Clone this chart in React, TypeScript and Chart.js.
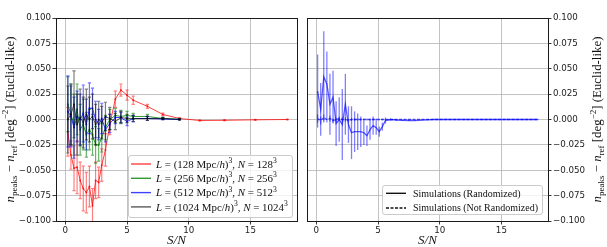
import React, { useEffect, useRef } from 'react';
import { Chart, registerables } from 'chart.js';

Chart.register(...registerables);

// ---------------- data ----------------
const xLeft = [0.2, 0.45, 0.7, 0.95, 1.2, 1.45, 1.7, 1.95, 2.2, 2.45, 2.7, 2.95, 3.25, 3.6, 4.05, 4.5, 5.0, 5.5, 6.65, 7.9, 9.25, 10.9, 12.9, 15.4, 18.0];

const red128 = [-0.012, -0.035, -0.048, -0.047, -0.06, -0.068, -0.072, -0.066, -0.085, -0.06, -0.062, -0.045, -0.03, -0.005, 0.02, 0.029, 0.024, 0.019, 0.013, 0.005, 0.001, -0.001, -0.0008, -0.0003, 0];
const red128Err = [0.024, 0.014, 0.022, 0.026, 0.018, 0.022, 0.02, 0.02, 0.017, 0.018, 0.015, 0.016, 0.016, 0.01, 0.008, 0.006, 0.005, 0.004, 0.002, 0.0012, 0.0008, 0.0005, 0.0004, 0.0003, 0.0002];

const green256 = [0.015, 0.005, -0.005, 0.01, -0.01, -0.005, -0.015, -0.01, -0.015, -0.025, -0.025, -0.018, -0.008, 0.0, 0.004, 0.003, 0.004, 0.003, 0.003, 0.001, 0.0003];
const green256Err = [0.027, 0.03, 0.03, 0.025, 0.025, 0.025, 0.022, 0.02, 0.02, 0.018, 0.016, 0.014, 0.012, 0.01, 0.007, 0.006, 0.004, 0.003, 0.002, 0.001, 0.0005];

const blue512 = [0.008, 0.003, -0.008, 0.003, 0.0, 0.006, -0.005, 0.011, 0.011, 0.0, -0.005, 0.001, -0.01, -0.004, 0.002, 0.002, -0.002, 0.001, 0.001, 0.0005, 0];
const blue512Err = [0.035, 0.03, 0.03, 0.025, 0.025, 0.028, 0.025, 0.025, 0.02, 0.018, 0.015, 0.015, 0.012, 0.009, 0.006, 0.005, 0.004, 0.003, 0.002, 0.001, 0.0005];

const black1024 = [0.0, 0.005, 0.015, -0.005, 0.002, -0.003, 0.005, 0.0, 0.003, -0.005, 0.0, -0.003, 0.003, 0.001, -0.002, 0.002, 0.001, 0.001, 0.001, 0.001, 0];
const black1024Err = [0.033, 0.03, 0.033, 0.03, 0.028, 0.025, 0.025, 0.022, 0.022, 0.02, 0.018, 0.016, 0.014, 0.011, 0.008, 0.006, 0.004, 0.003, 0.002, 0.001, 0.0005];

const xRight = [0.1, 0.35, 0.6, 0.85, 1.1, 1.35, 1.6, 1.85, 2.1, 2.35, 2.6, 2.85, 3.1, 3.35, 3.6, 3.85, 4.1, 4.35, 4.6, 4.85, 5.1, 5.35, 5.6, 6.0, 6.5, 7.0, 7.5, 8.0, 8.5, 9.0, 9.5, 10.0, 10.5, 11.0, 11.5, 12.0, 12.5, 13.0, 13.5, 14.0, 14.5, 15.0, 15.5, 16.0, 16.5, 17.0, 17.5, 18.0];

const simRandomized = [0.028, 0.01, 0.042, 0.035, 0.015, 0.022, -0.004, 0.0, -0.005, 0.015, -0.005, -0.013, -0.012, -0.012, -0.012, -0.013, -0.016, -0.01, -0.006, -0.008, -0.012, -0.007, -0.001, 0.0, -0.0005, -0.0008, -0.001, -0.0012, -0.0006, -0.0003, 0, 0, 0, 0, 0, 0, 0, 0, 0, 0, 0, 0, 0, 0, 0, 0, 0, 0];
const simRandomizedErr = [0.036, 0.026, 0.045, 0.032, 0.03, 0.026, 0.022, 0.022, 0.035, 0.03, 0.018, 0.026, 0.02, 0.018, 0.015, 0.012, 0.01, 0.01, 0.009, 0.007, 0.005, 0.004, 0.003, 0.001, 0.0008, 0.0006, 0.0005, 0.0004, 0.0003, 0.0002, 0.0002, 0, 0, 0, 0, 0, 0, 0, 0, 0, 0, 0, 0, 0, 0, 0, 0, 0];

const simNotRandomized = [0.001, -0.001, 0.002, 0.0, 0.001, -0.001, 0.0, 0.001, 0.0, 0.0, -0.001, 0.0, 0.0, 0.0, 0.0, 0.0, 0.0, 0.0, 0.0, 0.0, 0.0, 0.0, 0.0, 0, 0, 0, 0, 0, 0, 0, 0, 0, 0, 0, 0, 0, 0, 0, 0, 0, 0, 0, 0, 0, 0, 0, 0, 0];
const simNotRandomizedErr = [0.004, 0.004, 0.003, 0.003, 0.003, 0.002, 0.002, 0.002, 0.002, 0.002, 0.0015, 0.0015, 0.0015, 0.001, 0.001, 0.001, 0.001, 0.001, 0.001, 0.001, 0.0008, 0.0008, 0.0005, 0, 0, 0, 0, 0, 0, 0, 0, 0, 0, 0, 0, 0, 0, 0, 0, 0, 0, 0, 0, 0, 0, 0, 0, 0];

const xTicks = [0, 5, 10, 15];
const yTicks = [-0.1, -0.075, -0.05, -0.025, 0, 0.025, 0.05, 0.075, 0.1];

const leftLabels = ['128', '256', '512', '1024'];
const rightLabels = ['Simulations (Randomized)', 'Simulations (Not Randomized)'];

// ---------------- rich text helpers ----------------
type Seg = { t: string; it?: boolean; sub?: boolean; sup?: boolean };
const SERIF = '"Liberation Serif", "DejaVu Serif", serif';

function segSize(s: Seg, size: number) {
  return s.sub || s.sup ? size * 0.7 : size;
}
function setFont(ctx: CanvasRenderingContext2D, s: Seg, size: number) {
  ctx.font = `${s.it ? 'italic ' : ''}${segSize(s, size)}px ${SERIF}`;
}
function richWidth(ctx: CanvasRenderingContext2D, segs: Seg[], size: number) {
  let w = 0;
  for (const s of segs) {
    setFont(ctx, s, size);
    w += ctx.measureText(s.t).width;
  }
  return w;
}
function drawRich(ctx: CanvasRenderingContext2D, segs: Seg[], x: number, y: number, size: number) {
  let cx = x;
  ctx.textAlign = 'left';
  ctx.textBaseline = 'alphabetic';
  for (const s of segs) {
    setFont(ctx, s, size);
    const dy = s.sub ? size * 0.22 : s.sup ? -size * 0.42 : 0;
    ctx.fillText(s.t, cx, y + dy);
    cx += ctx.measureText(s.t).width;
  }
}
function fitSize(ctx: CanvasRenderingContext2D, segs: Seg[], target: number) {
  return (10 * target) / richWidth(ctx, segs, 10);
}

const yTitleSegs: Seg[] = [
  { t: 'n', it: true },
  { t: 'peaks', sub: true },
  { t: ' \u2212 ' },
  { t: 'n', it: true },
  { t: 'ref', sub: true },
  { t: ' [deg' },
  { t: '\u22122', sup: true },
  { t: '] (Euclid-like)' },
];
const xTitleSegs: Seg[] = [{ t: 'S/N', it: true }];

function boxSegs(n: string): Seg[] {
  return [
    { t: 'L', it: true },
    { t: ` = (${n} Mpc/` },
    { t: 'h', it: true },
    { t: ')' },
    { t: '3', sup: true },
    { t: ', ' },
    { t: 'N', it: true },
    { t: ` = ${n}` },
    { t: '3', sup: true },
  ];
}

interface LegendRow { color: string; dash?: number[]; segs: Seg[] }
interface LegendCfg {
  rows: LegendRow[];
  textW: number;
  rowH: number;
  firstOff: number;
  height: number;
  mr: number;
  mb: number;
  padL: number;
  lineLen: number;
  gap: number;
  padR: number;
}
interface AnnotCfg {
  yTitleX: number;
  yTitleLen: number;
  xTitleY: number;
  xTitleSize: number;
  legend: LegendCfg;
}

function makeAnnot(cfg: AnnotCfg) {
  return {
    id: 'annot',
    afterDraw(chart: any) {
      const ctx: CanvasRenderingContext2D = chart.ctx;
      const a = chart.chartArea;
      ctx.save();
      // frame
      ctx.strokeStyle = '#1a1a1a';
      ctx.lineWidth = 1;
      ctx.strokeRect(Math.round(a.left) + 0.5, Math.round(a.top) + 0.5, Math.round(a.right - a.left), Math.round(a.bottom - a.top));

      ctx.fillStyle = '#111';
      // y title
      const ys = fitSize(ctx, yTitleSegs, cfg.yTitleLen);
      const yw = richWidth(ctx, yTitleSegs, ys);
      const cy = (a.top + a.bottom) / 2;
      ctx.save();
      ctx.translate(cfg.yTitleX, cy);
      ctx.rotate(-Math.PI / 2);
      drawRich(ctx, yTitleSegs, -yw / 2, ys * 0.33, ys);
      ctx.restore();

      // x title
      const xw = richWidth(ctx, xTitleSegs, cfg.xTitleSize);
      drawRich(ctx, xTitleSegs, (a.left + a.right) / 2 - xw / 2, cfg.xTitleY, cfg.xTitleSize);

      // legend
      const L = cfg.legend;
      let longest = L.rows[0].segs;
      let lw = 0;
      for (const r of L.rows) {
        const w = richWidth(ctx, r.segs, 10);
        if (w > lw) { lw = w; longest = r.segs; }
      }
      const ls = fitSize(ctx, longest, L.textW);
      const w = L.padL + L.lineLen + L.gap + L.textW + L.padR;
      const right = a.right - L.mr;
      const bottom = a.bottom - L.mb;
      const left = right - w;
      const top = bottom - L.height;
      ctx.beginPath();
      (ctx as any).roundRect(left + 0.5, top + 0.5, w, L.height, 2.5);
      ctx.fillStyle = 'rgba(255,255,255,0.8)';
      ctx.fill();
      ctx.strokeStyle = '#cccccc';
      ctx.lineWidth = 1;
      ctx.stroke();
      L.rows.forEach((r, i) => {
        const ry = top + L.firstOff + i * L.rowH;
        ctx.beginPath();
        ctx.strokeStyle = r.color;
        ctx.lineWidth = 1.4;
        ctx.setLineDash(r.dash || []);
        ctx.moveTo(left + L.padL, ry);
        ctx.lineTo(left + L.padL + L.lineLen, ry);
        ctx.stroke();
        ctx.setLineDash([]);
        ctx.fillStyle = '#111';
        drawRich(ctx, r.segs, left + L.padL + L.lineLen + L.gap, ry + ls * 0.33, ls);
      });
      ctx.restore();
    },
  };
}

const errorBarPlugin = {
  id: 'errbars',
  beforeDatasetDraw(chart: any, args: any) {
    const ds: any = chart.data.datasets[args.index];
    if (!ds.errors) return;
    const xs = chart.scales.x;
    const ys = chart.scales.y;
    const ctx: CanvasRenderingContext2D = chart.ctx;
    const a = chart.chartArea;
    ctx.save();
    ctx.beginPath();
    ctx.rect(a.left, a.top, a.right - a.left, a.bottom - a.top);
    ctx.clip();
    ctx.strokeStyle = ds.errColor;
    ctx.lineWidth = ds.errWidth || 1;
    const cap = ds.cap || 0;
    ds.data.forEach((p: any, i: number) => {
      const e = ds.errors[i];
      if (!e) return;
      const px = xs.getPixelForValue(p.x);
      const y1 = ys.getPixelForValue(p.y - e);
      const y2 = ys.getPixelForValue(p.y + e);
      ctx.beginPath();
      ctx.moveTo(px, y1);
      ctx.lineTo(px, y2);
      if (cap) {
        ctx.moveTo(px - cap, y1);
        ctx.lineTo(px + cap, y1);
        ctx.moveTo(px - cap, y2);
        ctx.lineTo(px + cap, y2);
      }
      ctx.stroke();
    });
    ctx.restore();
  },
};

function fmtY(v: number) {
  const s = (Math.abs(v) < 1e-9 ? 0 : v).toFixed(3);
  return s.replace('-', '\u2212');
}

function xScale() {
  return {
    type: 'linear' as const,
    min: -0.76,
    max: 18.78,
    afterBuildTicks: (s: any) => { s.ticks = xTicks.map((v) => ({ value: v })); },
    afterFit: (s: any) => { s.height = 26; },
    grid: { color: 'rgba(176,176,176,0.85)', lineWidth: 0.9, tickColor: '#222', tickLength: 3.5, drawTicks: true },
    border: { display: false },
    ticks: { color: '#222', font: { family: 'DejaVu Sans', size: 8.7 }, padding: 1.5, autoSkip: false, maxRotation: 0 },
  };
}
function yScale(pos: 'left' | 'right', width: number) {
  return {
    type: 'linear' as const,
    position: pos,
    min: -0.1,
    max: 0.1,
    afterBuildTicks: (s: any) => { s.ticks = yTicks.map((v) => ({ value: v })); },
    afterFit: (s: any) => { s.width = width; },
    grid: { color: 'rgba(176,176,176,0.85)', lineWidth: 0.9, tickColor: '#222', tickLength: 3.5, drawTicks: true },
    border: { display: false },
    ticks: { color: '#222', font: { family: 'DejaVu Sans', size: 8.7 }, padding: 1.5, autoSkip: false, callback: (v: any) => fmtY(Number(v)) },
  };
}

function series(label: string, xs: number[], ys: number[], errs: number[], color: string, errColor: string, order: number, extra: any = {}) {
  return {
    label,
    data: ys.map((y, i) => ({ x: xs[i], y })),
    borderColor: color,
    backgroundColor: color,
    borderWidth: 1,
    pointRadius: 1,
    pointBorderWidth: 0,
    tension: 0,
    errors: errs,
    errColor,
    errWidth: 1.2,
    cap: 1.6,
    order,
    ...extra,
  };
}

const leftColors = ['rgba(255,0,0,0.75)', 'rgba(0,128,0,0.8)', 'rgba(0,0,255,0.75)', 'rgba(0,0,0,0.65)'];
const leftErrColors = ['rgba(255,0,0,0.5)', 'rgba(0,128,0,0.6)', 'rgba(0,0,255,0.55)', 'rgba(0,0,0,0.5)'];

function leftConfig(): any {
  const vals = [red128, green256, blue512, black1024];
  const errs = [red128Err, green256Err, blue512Err, black1024Err];
  return {
    type: 'line',
    data: {
      datasets: leftLabels.map((n, i) => series(n, xLeft, vals[i], errs[i], leftColors[i], leftErrColors[i], 4 - i)),
    },
    options: {
      animation: false,
      responsive: false,
      devicePixelRatio: 1,
      layout: { padding: { top: 18, right: 5, left: 0, bottom: 0 } },
      scales: { x: xScale(), y: yScale('left', 56) },
      plugins: { legend: { display: false }, tooltip: { enabled: false } },
    },
    plugins: [
      errorBarPlugin,
      makeAnnot({
        yTitleX: 9.5,
        yTitleLen: 166,
        xTitleY: 244,
        xTitleSize: 13,
        legend: {
          rows: leftLabels.map((n, i) => ({ color: leftColors[i], segs: boxSegs(n) })),
          textW: 132,
          rowH: 14.3,
          firstOff: 9,
          height: 62,
          mr: 5,
          mb: 4,
          padL: 3,
          lineLen: 20,
          gap: 5,
          padR: 4,
        },
      }),
    ],
  };
}

function rightConfig(): any {
  return {
    type: 'line',
    data: {
      datasets: [
        series(rightLabels[0], xRight, simRandomized, simRandomizedErr, 'rgba(0,0,255,0.65)', 'rgba(0,0,255,0.5)', 1, { pointRadius: 0, borderWidth: 1.3, errWidth: 1.3, cap: 0 }),
        series(rightLabels[1], xRight, simNotRandomized, simNotRandomizedErr, 'rgba(0,0,255,0.65)', 'rgba(0,0,255,0.5)', 2, { pointRadius: 0, borderWidth: 1.3, errWidth: 1.3, cap: 0, borderDash: [3, 1.5] }),
      ],
    },
    options: {
      animation: false,
      responsive: false,
      devicePixelRatio: 1,
      layout: { padding: { top: 18, right: 0, left: 5, bottom: 0 } },
      scales: { x: xScale(), y: yScale('right', 59) },
      plugins: { legend: { display: false }, tooltip: { enabled: false } },
    },
    plugins: [
      errorBarPlugin,
      makeAnnot({
        yTitleX: 295,
        yTitleLen: 166,
        xTitleY: 244,
        xTitleSize: 13,
        legend: {
          rows: [
            { color: '#111', segs: [{ t: rightLabels[0] }] },
            { color: '#111', dash: [3, 1.5], segs: [{ t: rightLabels[1] }] },
          ],
          textW: 125,
          rowH: 14.7,
          firstOff: 8.3,
          height: 29,
          mr: 6,
          mb: 7,
          padL: 4,
          lineLen: 20,
          gap: 7,
          padR: 4,
        },
      }),
    ],
  };
}

export default function App() {
  const leftRef = useRef<HTMLCanvasElement>(null);
  const rightRef = useRef<HTMLCanvasElement>(null);
  useEffect(() => {
    const c1 = new Chart(leftRef.current as HTMLCanvasElement, leftConfig());
    const c2 = new Chart(rightRef.current as HTMLCanvasElement, rightConfig());
    return () => {
      c1.destroy();
      c2.destroy();
    };
  }, []);
  return (
    <div style={{ position: 'fixed', left: 0, top: 0, width: 607, height: 247, background: '#fff', display: 'flex' }}>
      <canvas ref={leftRef} width={302} height={247} style={{ display: 'block', width: 302, height: 247 }} />
      <canvas ref={rightRef} width={305} height={247} style={{ display: 'block', width: 305, height: 247 }} />
    </div>
  );
}
